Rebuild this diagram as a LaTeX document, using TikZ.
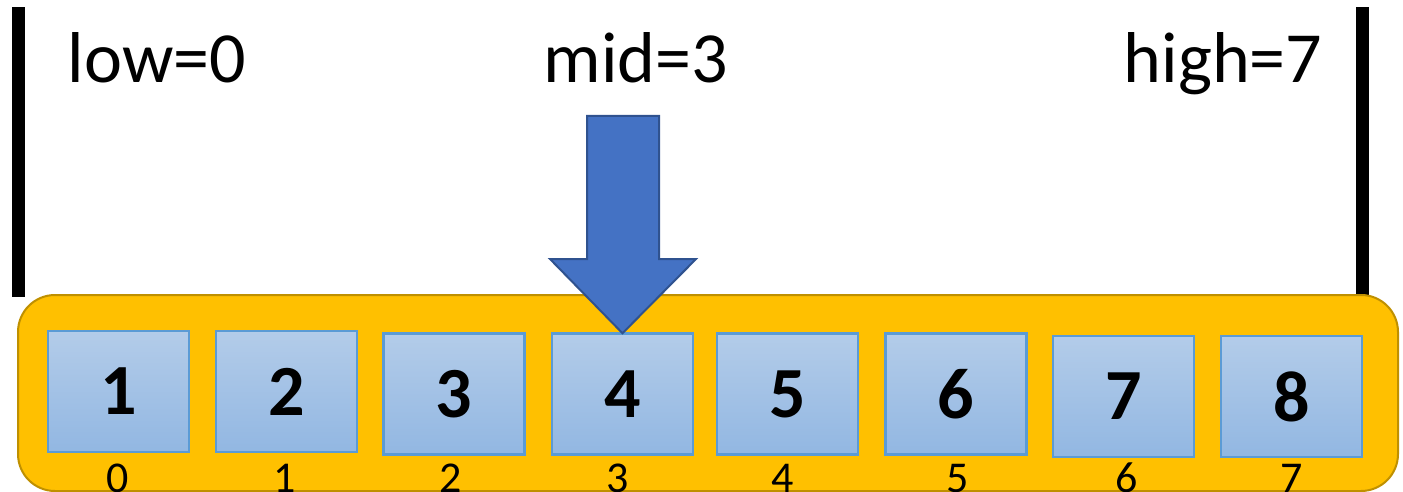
\documentclass[tikz,border=0pt]{standalone}
\usepackage{fontspec}
\setmainfont{Carlito}
\begin{document}
\begin{tikzpicture}[x=1pt,y=-1pt,
  bar/.style={fill=black,draw=none},
  tray/.style={fill=traygold,draw=trayedge,line width=2pt,rounded corners=37pt},
  cell/.style={draw=celledge,line width=2.5pt,top color=celltop,bottom color=cellbot,
    minimum width=141pt,minimum height=121pt,inner sep=0pt,
    font=\fontsize{72}{86}\selectfont\bfseries},
  idx/.style={anchor=base,inner sep=0pt,font=\fontsize{44}{52}\selectfont},
  ptr/.style={anchor=base,inner sep=0pt,font=\fontsize{72}{86}\selectfont},
  pointer/.style={fill=arrowblue,draw=arrowedge,line width=2pt,line join=miter}]
\definecolor{traygold}{HTML}{FFC000}
\definecolor{trayedge}{HTML}{BF9000}
\definecolor{celledge}{HTML}{5B9BD5}
\definecolor{celltop}{HTML}{B3CCE9}
\definecolor{cellbot}{HTML}{92B7E2}
\definecolor{arrowblue}{HTML}{4472C4}
\definecolor{arrowedge}{HTML}{2F528F}
\useasboundingbox (0,0) rectangle (1403,492);

% range markers
\fill[bar] (12,7) rectangle (25,297);
\fill[bar] (1356,7) rectangle (1369,297);

% array tray
\draw[tray] (18,295) rectangle (1398,491);

% array cells
\node[cell] (b1) at (118.5,391.5) {1};
\node[cell] (b2) at (286.5,391.5) {2};
\node[cell] (b3) at (454,394) {3};
\node[cell] (b4) at (622.5,394) {4};
\node[cell] (b5) at (787.5,394) {5};
\node[cell] (b6) at (956,394) {6};
\node[cell] (b7) at (1123.5,396.5) {7};
\node[cell] (b8) at (1291.5,396.5) {8};

% indices
\node[idx] (i0) at (118,492) {0};
\node[idx] (i1) at (285,492) {1};
\node[idx] (i2) at (451,492) {2};
\node[idx] (i3) at (618,492) {3};
\node[idx] (i4) at (783,492) {4};
\node[idx] (i5) at (958,492) {5};
\node[idx] (i6) at (1127,492) {6};
\node[idx] (i7) at (1292,492) {7};

% pointer labels
\node[ptr] (low) at (157,83) {low=0};
\node[ptr] (mid) at (636,83) {mid=3};
\node[ptr] (high) at (1223,83) {high=7};

% mid pointer arrow
\coordinate (tip) at (b4.north);
\draw[pointer] (587,116) -- (659,116) -- (659,259) -- (696,259)
  -- ([yshift=-1pt]tip) -- (550,259) -- (587,259) -- cycle;
\end{tikzpicture}
\end{document}
